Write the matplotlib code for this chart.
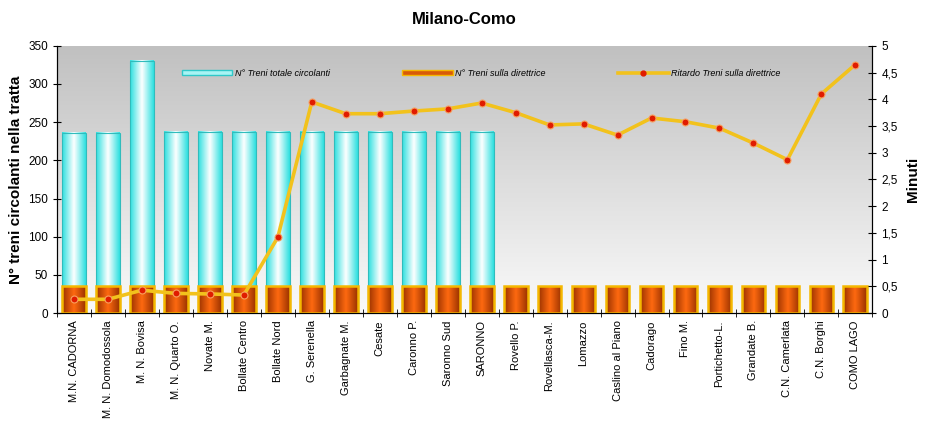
import matplotlib
matplotlib.use("Agg")
import matplotlib.pyplot as plt
import numpy as np
from matplotlib.colors import LinearSegmentedColormap
from matplotlib.patches import Patch
from matplotlib.lines import Line2D
from matplotlib.ticker import FuncFormatter, MultipleLocator

plt.rcParams['font.family'] = ['Liberation Sans', 'DejaVu Sans']

stations = [
    "M.N. CADORNA", "M. N. Domodossola", "M. N. Bovisa", "M. N. Quarto O.",
    "Novate M.", "Bollate Centro", "Bollate Nord", "G. Serenella",
    "Garbagnate M.", "Cesate", "Caronno P.", "Saronno Sud", "SARONNO",
    "Rovello P.", "Rovellasca-M.", "Lomazzo", "Caslino al Piano", "Cadorago",
    "Fino M.", "Portichetto-L.", "Grandate B.", "C.N. Camerlata",
    "C.N. Borghi", "COMO LAGO",
]
treni_totali = [236, 236, 330, 237, 237, 237, 237, 237, 237, 237, 237, 237, 237]
treni_direttrice = [35] * 24
ritardo = [0.26, 0.26, 0.43, 0.37, 0.36, 0.34, 1.42, 3.95, 3.73, 3.73, 3.78,
           3.82, 3.93, 3.75, 3.52, 3.54, 3.33, 3.65, 3.58, 3.46, 3.18, 2.87,
           4.10, 4.65]

cyan_cmap = LinearSegmentedColormap.from_list("cy", ["#2ee0e0", "#ffffff", "#2ee0e0"])
orange_cmap = LinearSegmentedColormap.from_list("or", ["#9a3200", "#ff6a10", "#9a3200"])
bg_cmap = LinearSegmentedColormap.from_list("bg", ["#fafafa", "#c0c0c0"])

fig = plt.figure(figsize=(9.34, 4.32), dpi=100)
ax = fig.add_axes([0.061, 0.275, 0.873, 0.619])
x = np.arange(len(stations))
width = 0.7

# sfondo sfumato dell'area del grafico
ax.imshow(np.linspace(0, 1, 256).reshape(-1, 1)[::-1], cmap=bg_cmap, aspect='auto',
          extent=[0, 1, 0, 1], transform=ax.transAxes, zorder=0)

grad = np.linspace(0, 1, 64).reshape(1, -1)

def gradient_bars(rects, cmap, edge, lw, z):
    for r in rects:
        x0, w, h = r.get_x(), r.get_width(), r.get_height()
        ax.imshow(grad, cmap=cmap, aspect='auto', extent=[x0, x0 + w, 0, h],
                  zorder=z, interpolation='bicubic')
        r.set_facecolor('none')
        r.set_edgecolor(edge)
        r.set_linewidth(lw)
        r.set_zorder(z + 0.1)

tot = ax.bar(x[:len(treni_totali)], treni_totali, width=width)
gradient_bars(tot, cyan_cmap, "#30bcbc", 0.8, 2)
dir_ = ax.bar(x, treni_direttrice, width=width)
gradient_bars(dir_, orange_cmap, "#f5b800", 1.8, 3)

ax.set_xlim(-0.5, len(stations) - 0.5)
ax.set_ylim(0, 350)
ax.yaxis.set_major_locator(MultipleLocator(50))
ax.set_xticks(x)
ax.set_xticklabels(stations, rotation=90, fontsize=8)
ax.set_xticks(np.arange(-0.5, len(stations)), minor=True)
ax.tick_params(axis='x', which='major', length=0, pad=5)
ax.tick_params(axis='x', which='minor', length=6, direction='inout')
ax.tick_params(axis='y', labelsize=8.5, direction='inout', length=6)
ax.spines['top'].set_visible(False)
ax.set_ylabel("N° treni circolanti nella tratta", fontsize=11, fontweight='bold')

ax2 = ax.twinx()
ax2.plot(x, ritardo, color="#f2c21c", lw=2.6, zorder=5)
ax2.plot(x, ritardo, ls='none', marker='o', ms=5, mfc="#e01c00", mec="#f7a060",
         mew=0.8, zorder=6)
ax2.set_ylim(0, 5)
ax2.yaxis.set_major_locator(MultipleLocator(0.5))
ax2.yaxis.set_major_formatter(FuncFormatter(lambda v, p: f"{v:g}".replace('.', ',')))
ax2.tick_params(axis='y', labelsize=8.5, direction='inout', length=6)
ax2.spines['top'].set_visible(False)
ax2.set_ylabel("Minuti", fontsize=11, fontweight='bold', labelpad=6)

ax.set_title("Milano-Como", fontsize=12, fontweight='bold', pad=16)

handles = [
    Patch(facecolor="#a8f4f4", edgecolor="#30c8c8"),
    Patch(facecolor="#d85a08", edgecolor="#f5b800"),
    Line2D([], [], color="#f2c21c", lw=2.6, marker='o', ms=3.5, mfc="#e01c00", mec="#e01c00"),
]
labels = ["N° Treni totale circolanti", "N° Treni sulla direttrice", "Ritardo Treni sulla direttrice"]
leg = ax2.legend(handles, labels, loc='upper left', bbox_to_anchor=(0.143, 0.945), ncol=3,
                 frameon=False, prop={'size': 6.5, 'style': 'italic'}, handlelength=5.6,
                 handleheight=0.5, handletextpad=0.3, columnspacing=8.0)

fig.savefig("out.png", dpi=100)
